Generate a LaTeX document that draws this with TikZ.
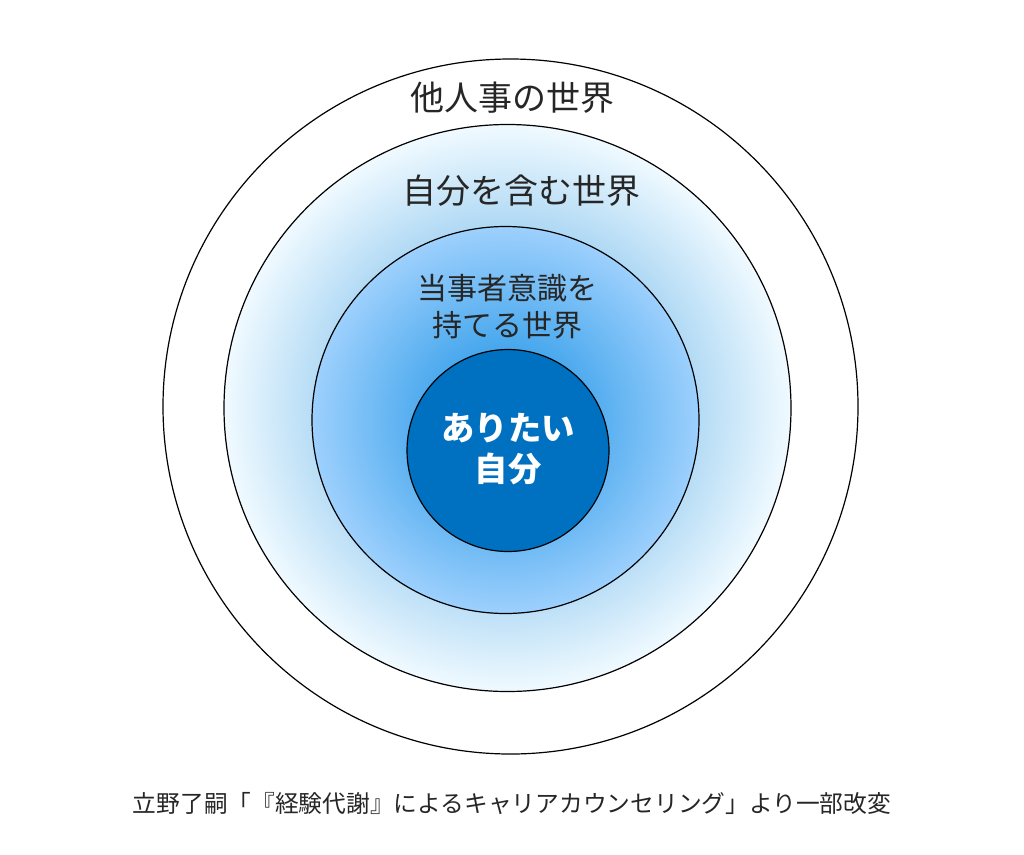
\documentclass[tikz,border=0pt]{standalone}
\usepackage{fontspec}
\setmainfont{Noto Sans CJK JP}
\definecolor{selfblue}{HTML}{0070C0}
\definecolor{inkgray}{HTML}{262626}
\begin{document}
\begin{tikzpicture}[x=0.75pt,y=-0.75pt,
    ring/.style={circle, draw=black, line width=0.9pt, inner sep=0pt, outer sep=0pt, minimum size=#1*0.75pt},
    worldlabel/.style={text=inkgray, font=\fontsize{25.5}{30}\selectfont, align=center, inner sep=0pt},
    selflabel/.style={text=white, font=\bfseries\fontsize{25}{30.4}\selectfont, align=center, inner sep=0pt}]
\fill[white] (0,0) rectangle (1024,854); %background
\useasboundingbox (0,0) rectangle (1024,854);
% the four worlds
\node[ring=695] (others) at (510.5,406.5) {};
\node[ring=567, inner color={rgb,255:red,58;green,156;blue,225}, outer color={rgb,255:red,240;green,250;blue,255}] (withself) at (507.5,408) {};
\node[ring=387, inner color={rgb,255:red,20;green,143;blue,227}, outer color={rgb,255:red,157;green,208;blue,253}] (owner) at (505.5,420) {};
\node[ring=202, fill=selfblue] (self) at (508,450.5) {};
% labels
\node[worldlabel] (othersname) at (512,97.5) {他人事の世界};
\node[worldlabel] (withselfname) at (521,191) {自分を含む世界};
\node[worldlabel, font=\fontsize{22.5}{27.75}\selectfont] (ownername) at (507,306.5) {当事者意識を\\持てる世界};
\node[selflabel] (selfname) at (508,449) {ありたい\\自分};
\node[worldlabel, font=\fontsize{17.8}{20}\selectfont] (source) at (512,804) {立野了嗣「『経験代謝』によるキャリアカウンセリング」より一部改変};
\end{tikzpicture}
\end{document}
